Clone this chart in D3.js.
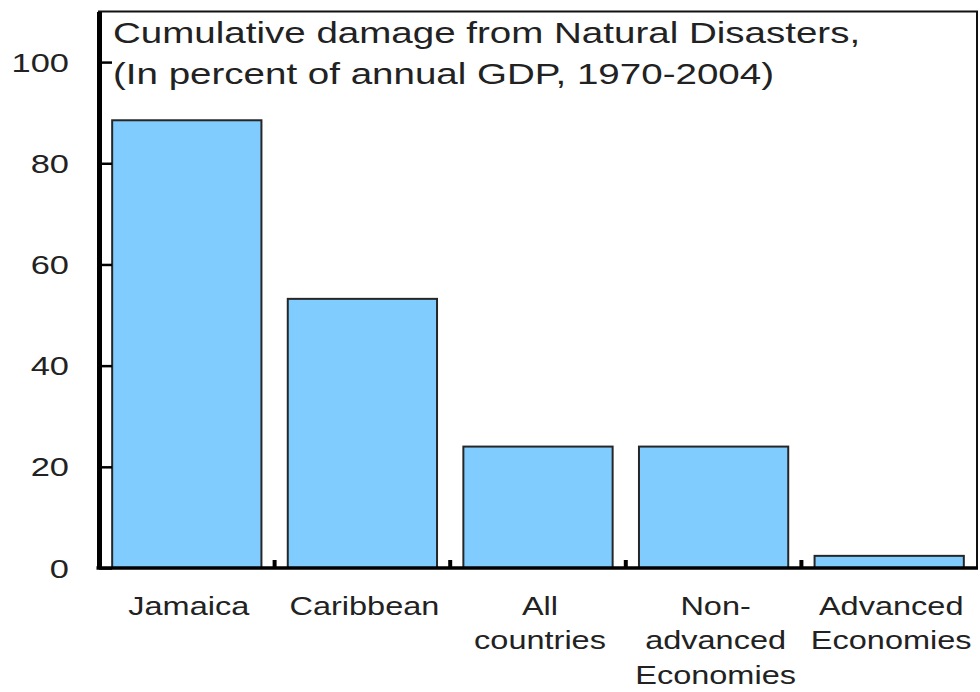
<!DOCTYPE html>
<html>
<head>
<meta charset="utf-8">
<script src="https://cdn.jsdelivr.net/npm/d3@7"></script>
<style>
  body { margin: 0; background: #fff; }
  text { font-family: "Liberation Sans", Arial, Helvetica, sans-serif; fill: #222; }
</style>
</head>
<body>
<svg id="chart" width="980" height="692"></svg>
<script>
// Cumulative damage from natural disasters, % of annual GDP, 1970-2004
const categories = ["Jamaica", "Caribbean", "All countries", "Non-advanced Economies", "Advanced Economies"];
const categoryLines = [
  ["Jamaica"],
  ["Caribbean"],
  ["All", "countries"],
  ["Non-", "advanced", "Economies"],
  ["Advanced", "Economies"]
];
const damage = [88.5, 53.2, 24.0, 24.0, 2.4];
const yTicks = [0, 20, 40, 60, 80, 100];
const titleLines = [
  "Cumulative damage from Natural Disasters,",
  "(In percent of annual GDP, 1970-2004)"
];

const svg = d3.select("#chart");
const plot = { left: 99, right: 977, top: 11.5, bottom: 568 };
const stretch = 1.3;   // wide type used throughout the figure

const x = d3.scaleBand()
  .domain(categories)
  .range([plot.left, plot.right])
  .paddingInner(0.15)
  .paddingOuter(0.075);

const y = d3.scaleLinear()
  .domain([0, 110])
  .range([plot.bottom, plot.top]);

// frame (thin top and right edges)
svg.append("rect")
  .attr("x", plot.left).attr("y", plot.top)
  .attr("width", plot.right - plot.left)
  .attr("height", plot.bottom - plot.top)
  .attr("fill", "none")
  .attr("stroke", "#111")
  .attr("stroke-width", 2);

// bars
svg.append("g").selectAll("rect")
  .data(categories)
  .join("rect")
  .attr("x", d => x(d))
  .attr("y", (d, i) => y(damage[i]))
  .attr("width", x.bandwidth())
  .attr("height", (d, i) => y(0) - y(damage[i]))
  .attr("fill", "#80CCFF")
  .attr("stroke", "#262626")
  .attr("stroke-width", 2);

// left axis: ticks point into the plot
const yAxis = svg.append("g")
  .attr("transform", `translate(${plot.left},0)`)
  .call(d3.axisLeft(y).tickValues(yTicks).tickSize(-13).tickSizeOuter(0).tickFormat(""));
yAxis.select(".domain").attr("stroke", "#000").attr("stroke-width", 5);
yAxis.selectAll(".tick line").attr("stroke", "#000").attr("stroke-width", 2.5);

// left axis labels
svg.append("g").selectAll("g")
  .data(yTicks)
  .join("g")
  .attr("transform", d => `translate(69,${y(d) + 9.5})`)
  .append("text")
  .attr("transform", `scale(${stretch},1)`)
  .attr("text-anchor", "end")
  .attr("font-size", 26.5)
  .text(d => d);

// bottom axis line
svg.append("line")
  .attr("x1", plot.left - 2.5).attr("x2", plot.right + 1)
  .attr("y1", y(0)).attr("y2", y(0))
  .attr("stroke", "#000")
  .attr("stroke-width", 3.5);

// category separators on the bottom axis
const bounds = d3.range(1, categories.length).map(i => plot.left + i * x.step());
svg.append("g").selectAll("line")
  .data(bounds)
  .join("line")
  .attr("x1", d => d).attr("x2", d => d)
  .attr("y1", y(0)).attr("y2", y(0) - 8)
  .attr("stroke", "#000")
  .attr("stroke-width", 4);

// category labels
const catG = svg.append("g").selectAll("g")
  .data(categories)
  .join("g")
  .attr("transform", d => `translate(${x(d) + x.bandwidth() / 2 + 2},615)`);
catG.append("text")
  .attr("transform", `scale(${stretch},1)`)
  .attr("text-anchor", "middle")
  .attr("font-size", 25)
  .selectAll("tspan")
  .data((d, i) => categoryLines[i])
  .join("tspan")
  .attr("x", 0)
  .attr("y", (d, i) => i * 34.5)
  .text(d => d);

// title inside the frame
const titleG = svg.append("g").attr("transform", "translate(113,43)");
titleG.append("text")
  .attr("transform", "scale(1.315,1)")
  .attr("font-size", 29.3)
  .selectAll("tspan")
  .data(titleLines)
  .join("tspan")
  .attr("x", 0)
  .attr("y", (d, i) => i * 41)
  .text(d => d);
</script>
</body>
</html>
